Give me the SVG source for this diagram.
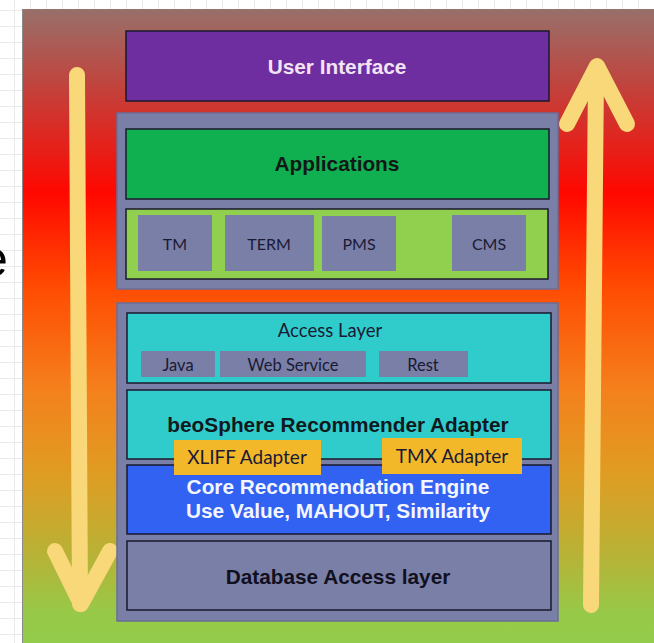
<svg xmlns="http://www.w3.org/2000/svg" width="654" height="643" viewBox="0 0 654 643">
<defs>
<pattern id="grid" x="14" y="10" width="16" height="16" patternUnits="userSpaceOnUse">
<path d="M0 0 H16 M0 0 V16" stroke="#e4e4e4" stroke-width="1.5" fill="none"/>
</pattern>
<linearGradient id="bg" x1="0" y1="0" x2="0" y2="1">
<stop offset="0" stop-color="#98706a"/>
<stop offset="0.14" stop-color="#c83c36"/>
<stop offset="0.29" stop-color="#ff0800"/>
<stop offset="0.44" stop-color="#ff4c02"/>
<stop offset="0.6" stop-color="#f4801c"/>
<stop offset="0.73" stop-color="#e09c22"/>
<stop offset="0.86" stop-color="#b8b236"/>
<stop offset="0.95" stop-color="#98c848"/>
<stop offset="1" stop-color="#92cc4a"/>
</linearGradient>
<style>
.panel{fill:#7a7fa8;stroke:#6a6e96;stroke-width:1.5}
.box{stroke:#1a1a2a;stroke-width:1.5}
.sub{fill:#7a7fa8}
.arrow{stroke:#f9d87a;stroke-linecap:round;stroke-linejoin:round;fill:none}
.hb{font-family:"Liberation Sans",Arial,sans-serif;font-weight:bold;text-anchor:middle;font-size:20.8px}
.gs{font-family:Lato,"Open Sans",sans-serif;text-anchor:middle;fill:#1a1a34}
</style>
</defs>
<rect x="0" y="0" width="654" height="643" fill="#ffffff"/>
<rect x="0" y="0" width="654" height="643" fill="url(#grid)"/>
<text x="-20" y="276" font-family="Liberation Sans, Arial, sans-serif" font-size="50" fill="#000">e</text>
<rect x="22" y="9" width="632" height="634" fill="url(#bg)"/>
<line x1="22.5" y1="9" x2="22.5" y2="643" stroke="#8a8a8a" stroke-width="1"/>

<g id="connectors">
<path class="arrow" d="M77 75 L80 604" stroke-width="16" stroke-linecap="butt"/>
<path class="arrow" d="M55 551 L81 604 L110 551" stroke-width="16"/>
<path class="arrow" d="M591 605 L596 75" stroke-width="16" stroke-linecap="butt"/>
<path class="arrow" d="M567 124 L597 66 L627 124" stroke-width="16"/>
</g>

<g id="user-interface">
<rect class="box" x="126" y="31" width="423" height="70" fill="#6f2ea0"/>
<text class="hb" x="337" y="74" fill="#f2e4f4">User Interface</text>
</g>

<g id="applications-panel">
<rect class="panel" x="117" y="113" width="441" height="176"/>
</g>
<g id="applications">
<rect class="box" x="126" y="129" width="423" height="70" fill="#10b050"/>
<text class="hb" x="337" y="171" fill="#101818">Applications</text>
</g>
<g id="app-modules">
<rect class="box" x="126" y="209" width="422" height="70" fill="#90d04e"/>
</g>
<g id="tm"><rect class="sub" x="138" y="215" width="74" height="56"/><text class="gs" x="175" y="250" font-size="16">TM</text></g>
<g id="term"><rect class="sub" x="225" y="215" width="89" height="56"/><text class="gs" x="269" y="250" font-size="16">TERM</text></g>
<g id="pms"><rect class="sub" x="322" y="216" width="74" height="55"/><text class="gs" x="359" y="250" font-size="16">PMS</text></g>
<g id="cms"><rect class="sub" x="452" y="215" width="74" height="56"/><text class="gs" x="489" y="250" font-size="16">CMS</text></g>

<g id="backend-panel">
<rect class="panel" x="117" y="303" width="441" height="318"/>
</g>
<g id="access-layer">
<rect class="box" x="127" y="313" width="424" height="70" fill="#30cccc"/>
<text class="gs" x="330" y="337" font-size="18.5">Access Layer</text>
</g>
<g id="java"><rect class="sub" x="141" y="351" width="74" height="26"/><text class="gs" x="178" y="371" font-size="16.5">Java</text></g>
<g id="web-service"><rect class="sub" x="220" y="351" width="146" height="26"/><text class="gs" x="293" y="371" font-size="16.5">Web Service</text></g>
<g id="rest"><rect class="sub" x="379" y="351" width="89" height="26"/><text class="gs" x="423" y="371" font-size="16.5">Rest</text></g>

<g id="beosphere">
<rect class="box" x="127" y="390" width="424" height="69" fill="#30cccc"/>
<text class="hb" x="338" y="432" fill="#101820">beoSphere Recommender Adapter</text>
</g>
<g id="core-engine">
<rect class="box" x="127" y="465" width="424" height="69" fill="#3262f2"/>
<text class="hb" x="338" y="494" fill="#f4f6ff">Core Recommendation Engine</text>
<text class="hb" x="338" y="518" fill="#f4f6ff">Use Value, MAHOUT, Similarity</text>
</g>
<g id="xliff-adapter">
<rect x="174" y="440" width="147" height="35" fill="#f2b82a"/>
<text class="gs" x="247" y="464" font-size="19">XLIFF Adapter</text>
</g>
<g id="tmx-adapter">
<rect x="382" y="438" width="140" height="36" fill="#f2b82a"/>
<text class="gs" x="452" y="463" font-size="19">TMX Adapter</text>
</g>
<g id="database">
<rect class="box" x="127" y="541" width="424" height="69" fill="#7a7fa8"/>
<text class="hb" x="338" y="584" fill="#101020">Database Access layer</text>
</g>
</svg>
